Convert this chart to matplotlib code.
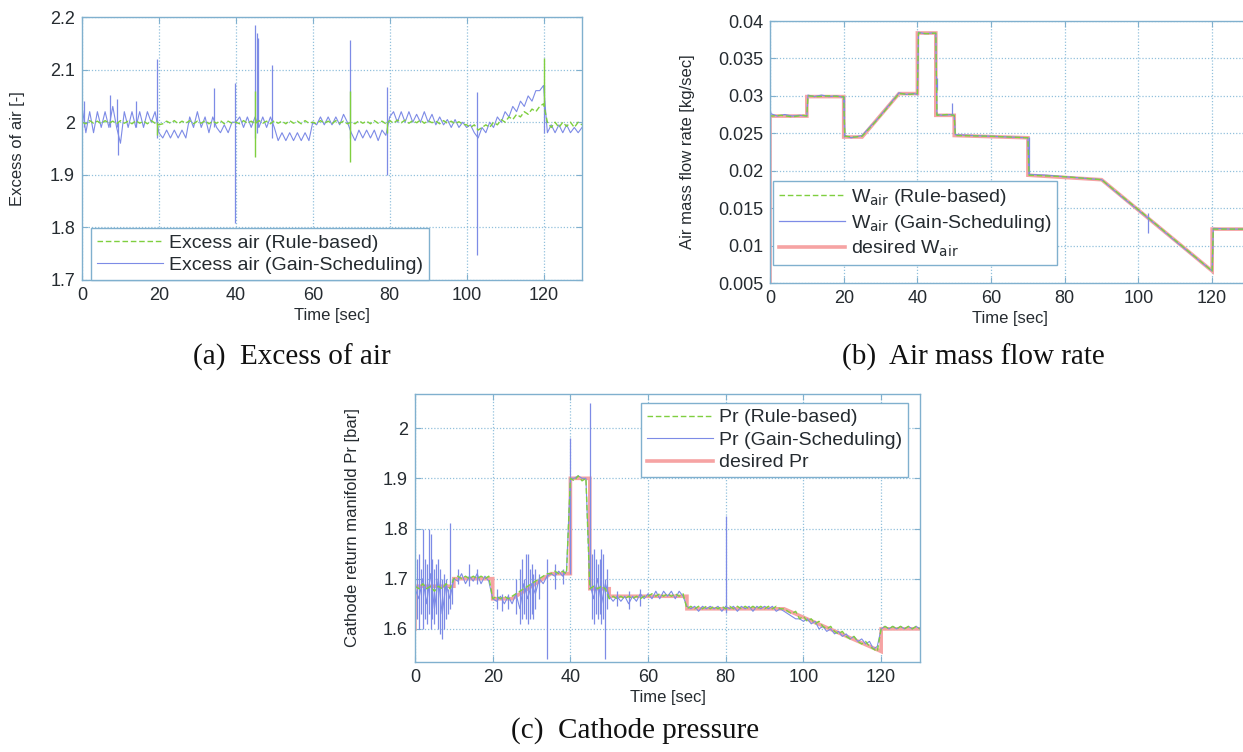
import matplotlib.pyplot as plt
import numpy as np

# ---------------- data ----------------
t_sec = list(range(0, 131))   # 1 s sampling grid used by the noisy traces

# (a) excess of air
a_gain = [2.03, 1.98, 2.02, 1.98, 2.02, 1.99, 2.02, 1.99, 2.03, 1.99,
          1.96, 2.02, 1.99, 2.02, 1.99, 2.02, 1.99, 2.02, 2.00, 2.02,
          1.98, 1.97, 1.985, 1.97, 1.985, 1.97, 1.985, 1.97, 2.01, 1.99,
          2.02, 1.99, 2.01, 1.98, 2.01, 1.99, 1.98, 1.995, 1.98, 2.00,
          2.00, 2.01, 1.99, 2.01, 1.99, 2.01, 1.99, 2.01, 1.99, 2.01,
          1.99, 1.965, 1.98, 1.965, 1.98, 1.965, 1.98, 1.965, 1.98, 1.965,
          2.00, 1.995, 2.01, 1.995, 2.01, 1.995, 2.01, 1.995, 2.015, 2.00,
          1.98, 1.965, 1.985, 1.97, 1.985, 1.97, 1.985, 1.965, 1.985, 1.975,
          2.01, 2.02, 2.00, 2.02, 2.00, 2.02, 2.00, 2.015, 2.00, 2.02,
          2.00, 2.015, 1.995, 2.01, 1.995, 2.005, 1.99, 2.005, 1.99, 2.00,
          1.99, 1.995, 1.98, 1.97, 1.99, 1.98, 2.00, 1.99, 2.01, 2.00,
          2.02, 2.01, 2.03, 2.02, 2.04, 2.03, 2.05, 2.04, 2.06, 2.06,
          2.07, 1.98, 1.995, 1.98, 1.995, 1.98, 1.995, 1.98, 1.99, 1.98, 1.99]
a_rule = [2.00, 1.997, 2.003, 1.998, 2.002, 1.997, 2.003, 1.998, 2.002, 1.997,
          2.003, 1.998, 2.002, 1.997, 2.003, 1.998, 2.002, 1.997, 2.003, 1.998,
          1.995, 1.997, 2.002, 1.998, 2.003, 1.997, 2.002, 1.998, 2.003, 1.997,
          2.002, 1.998, 2.003, 1.997, 2.002, 1.998, 2.003, 1.997, 2.002, 1.998,
          2.00, 1.997, 2.003, 1.998, 2.002, 1.997, 2.003, 1.998, 2.002, 1.997,
          2.003, 1.998, 2.002, 1.997, 2.003, 1.998, 2.002, 1.997, 2.003, 1.998,
          2.00, 1.997, 2.003, 1.998, 2.002, 1.997, 2.003, 1.998, 2.002, 1.997,
          2.00, 1.997, 2.003, 1.998, 2.002, 1.997, 2.003, 1.998, 2.002, 1.997,
          2.003, 1.998, 2.004, 1.999, 2.004, 1.998, 2.003, 1.999, 2.004, 1.998,
          2.003, 1.999, 2.002, 1.997, 2.003, 1.998, 2.002, 1.997, 2.001, 1.996,
          1.995, 1.99, 1.995, 1.985, 1.99, 1.995, 1.99, 2.00, 1.995, 2.005,
          2.00, 2.01, 2.005, 2.015, 2.01, 2.02, 2.015, 2.025, 2.02, 2.03,
          2.035, 2.00, 1.99, 2.00, 1.99, 2.00, 1.992, 2.00, 1.99, 2.00, 1.995]
a_gain_spk_t = [0.5, 7.3, 9.0, 9.4, 14.0, 19.6, 34.4, 39.8, 45.0, 45.4, 45.8, 49.5, 69.6, 79.4, 102.8, 120.0]
a_gain_spk_lo = [1.99, 1.99, 1.99, 1.938, 1.99, 1.97, 1.99, 1.808, 1.97, 1.98, 1.99, 1.97, 1.97, 1.90, 1.748, 1.98]
a_gain_spk_hi = [2.04, 2.052, 2.045, 2.00, 2.04, 2.12, 2.065, 2.075, 2.185, 2.17, 2.16, 2.109, 2.156, 2.067, 2.057, 2.07]
a_rule_spk_t = [19.6, 45.0, 69.6, 79.4, 120.0]
a_rule_spk_lo = [1.975, 1.934, 1.925, 1.98, 2.03]
a_rule_spk_hi = [2.00, 2.06, 2.06, 2.00, 2.122]
a_yticks = [1.7, 1.8, 1.9, 2.0, 2.1, 2.2]
a_yticklabels = ['1.7', '1.8', '1.9', '2', '2.1', '2.2']

# (b) air mass flow rate
b_des_t = [0, 0, 10, 10, 20, 20, 25, 35, 40, 40, 45, 45, 50, 50, 70, 70, 90, 120, 120, 130]
b_des_w = [0.0, 0.0273, 0.0273, 0.0299, 0.0299, 0.0245, 0.0245, 0.0303, 0.0303, 0.0384, 0.0384,
           0.0274, 0.0274, 0.0247, 0.0244, 0.0194, 0.0188, 0.0066, 0.0122, 0.0122]
b_gain_t = [0, 0.3, 2, 4, 6, 8, 10, 10.3, 12, 14, 16, 18, 20, 20.3, 22, 24, 25, 27, 29, 31, 33, 35,
            37, 39, 40, 40.3, 42, 44, 45, 45.3, 47, 49, 50, 50.3, 55, 60, 65, 70, 70.3, 75, 80, 85,
            90, 95, 100, 105, 110, 115, 120, 120.3, 125, 130]
b_gain_w = [0.0282, 0.0276, 0.0273, 0.0275, 0.0273, 0.0274, 0.0273, 0.0301, 0.0299, 0.0301, 0.0299,
            0.0300, 0.0298, 0.0247, 0.0244, 0.0246, 0.0247, 0.0258, 0.0268, 0.0280, 0.0292, 0.0304,
            0.0302, 0.0303, 0.0302, 0.0385, 0.0383, 0.0384, 0.0383, 0.0275, 0.0274, 0.0275, 0.0274,
            0.0248, 0.0247, 0.0246, 0.0245, 0.0244, 0.0195, 0.0194, 0.0192, 0.0190, 0.0188, 0.0167,
            0.0147, 0.0127, 0.0106, 0.0086, 0.0066, 0.0123, 0.0122, 0.0122]
b_rule_t = [0, 0.3, 3, 6, 9, 10, 10.3, 13, 16, 19, 20, 20.3, 23, 25, 28, 31, 34, 35, 38, 40, 40.3,
            43, 45, 45.3, 48, 50, 50.3, 60, 70, 70.3, 80, 90, 100, 110, 120, 120.3, 130]
b_rule_w = [0.0275, 0.0273, 0.0274, 0.0272, 0.0274, 0.0273, 0.0300, 0.0299, 0.0300, 0.0299, 0.0299,
            0.0246, 0.0245, 0.0246, 0.0262, 0.0279, 0.0297, 0.0303, 0.0302, 0.0303, 0.0384, 0.0383,
            0.0384, 0.0274, 0.0275, 0.0274, 0.0247, 0.0246, 0.0244, 0.0194, 0.0192, 0.0188, 0.0148,
            0.0107, 0.0066, 0.0122, 0.0122]
b_gain_spk_t = [20.2, 45.3, 49.5, 70.2, 102.6]
b_gain_spk_lo = [0.0245, 0.0308, 0.0275, 0.0195, 0.0117]
b_gain_spk_hi = [0.0300, 0.0324, 0.0290, 0.0245, 0.0143]
b_yticks = [0.005, 0.01, 0.015, 0.02, 0.025, 0.03, 0.035, 0.04]
b_yticklabels = ['0.005', '0.01', '0.015', '0.02', '0.025', '0.03', '0.035', '0.04']

# (c) cathode pressure
c_des_t = [0, 0, 10, 10, 20, 20, 25, 35, 40, 40, 45, 45, 50, 50, 70, 70, 95, 120, 120, 130]
c_des_p = [1.60, 1.685, 1.685, 1.70, 1.70, 1.66, 1.66, 1.71, 1.71, 1.90, 1.90, 1.68, 1.68, 1.665,
           1.665, 1.64, 1.64, 1.555, 1.60, 1.60]
c_gain = [1.68, 1.66, 1.70, 1.65, 1.71, 1.64, 1.70, 1.63, 1.69, 1.66,
          1.70, 1.695, 1.71, 1.69, 1.705, 1.695, 1.71, 1.69, 1.705, 1.695,
          1.66, 1.655, 1.665, 1.65, 1.665, 1.65, 1.67, 1.64, 1.69, 1.66,
          1.69, 1.67, 1.70, 1.69, 1.705, 1.71, 1.705, 1.715, 1.705, 1.715,
          1.90, 1.90, 1.905, 1.90, 1.90, 1.69, 1.66, 1.70, 1.65, 1.69,
          1.665, 1.655, 1.665, 1.655, 1.665, 1.65, 1.665, 1.655, 1.67, 1.66,
          1.67, 1.66, 1.675, 1.66, 1.675, 1.665, 1.675, 1.66, 1.675, 1.665,
          1.645, 1.64, 1.645, 1.635, 1.645, 1.64, 1.645, 1.64, 1.645, 1.635,
          1.645, 1.64, 1.645, 1.635, 1.645, 1.64, 1.645, 1.635, 1.645, 1.64,
          1.645, 1.64, 1.645, 1.635, 1.64, 1.635, 1.63, 1.625, 1.62, 1.62,
          1.615, 1.62, 1.61, 1.615, 1.60, 1.605, 1.595, 1.60, 1.59, 1.595,
          1.585, 1.59, 1.58, 1.585, 1.575, 1.58, 1.57, 1.575, 1.56, 1.565,
          1.60, 1.605, 1.60, 1.605, 1.60, 1.605, 1.60, 1.605, 1.60, 1.605, 1.60]
c_rule = [1.685, 1.68, 1.69, 1.68, 1.685, 1.675, 1.685, 1.68, 1.69, 1.68,
          1.70, 1.705, 1.70, 1.705, 1.70, 1.705, 1.70, 1.705, 1.70, 1.705,
          1.66, 1.665, 1.66, 1.665, 1.66, 1.665, 1.67, 1.675, 1.68, 1.685,
          1.69, 1.695, 1.70, 1.705, 1.71, 1.71, 1.715, 1.71, 1.715, 1.71,
          1.90, 1.895, 1.905, 1.895, 1.90, 1.68, 1.685, 1.68, 1.685, 1.68,
          1.66, 1.665, 1.66, 1.665, 1.66, 1.665, 1.66, 1.665, 1.66, 1.665,
          1.665, 1.67, 1.665, 1.67, 1.665, 1.67, 1.665, 1.67, 1.665, 1.67,
          1.64, 1.645, 1.64, 1.645, 1.64, 1.645, 1.64, 1.645, 1.64, 1.645,
          1.64, 1.645, 1.64, 1.645, 1.64, 1.645, 1.64, 1.645, 1.64, 1.645,
          1.64, 1.645, 1.64, 1.645, 1.64, 1.64, 1.635, 1.63, 1.635, 1.62,
          1.625, 1.615, 1.62, 1.61, 1.615, 1.605, 1.60, 1.605, 1.595, 1.59,
          1.595, 1.585, 1.58, 1.585, 1.575, 1.57, 1.575, 1.565, 1.56, 1.555,
          1.60, 1.605, 1.60, 1.605, 1.60, 1.605, 1.60, 1.605, 1.60, 1.605, 1.60]
c_gain_spk_t = [0.5, 1.0, 1.5, 2.0, 2.5, 3.0, 3.5, 4.0, 4.5, 5.0, 5.5, 6.0, 6.5, 7.0, 7.5, 8.0, 8.5, 9.0, 9.5,
                11, 14, 16, 21, 22.5, 24,
                26, 27, 27.5, 28, 28.5, 29, 29.5, 30, 30.5, 31, 32, 34, 36, 38, 40, 45,
                45.5, 46, 46.5, 47, 47.5, 48, 48.5, 49, 49.5, 52, 55, 58, 80]
c_gain_spk_lo = [1.62, 1.60, 1.63, 1.60, 1.62, 1.61, 1.63, 1.60, 1.62, 1.61, 1.63, 1.60, 1.59, 1.58, 1.60,
                 1.62, 1.63, 1.64, 1.65,
                 1.69, 1.685, 1.69, 1.64, 1.635, 1.64,
                 1.63, 1.61, 1.62, 1.63, 1.62, 1.61, 1.62, 1.63, 1.62, 1.64, 1.66, 1.54, 1.68, 1.69, 1.71, 1.68,
                 1.62, 1.61, 1.63, 1.62, 1.63, 1.61, 1.62, 1.54, 1.64, 1.645, 1.64, 1.645, 1.632]
c_gain_spk_hi = [1.74, 1.75, 1.72, 1.80, 1.74, 1.73, 1.80, 1.79, 1.74, 1.72, 1.73, 1.74, 1.72, 1.70, 1.71,
                 1.70, 1.68, 1.81, 1.70,
                 1.72, 1.73, 1.72, 1.68, 1.67, 1.67,
                 1.70, 1.72, 1.74, 1.70, 1.75, 1.75, 1.72, 1.73, 1.71, 1.72, 1.71, 1.74, 1.73, 1.72, 1.98, 2.05,
                 1.75, 1.76, 1.74, 1.73, 1.74, 1.76, 1.75, 1.70, 1.72, 1.675, 1.675, 1.68, 1.824]
c_yticks = [1.6, 1.7, 1.8, 1.9, 2.0]
c_yticklabels = ['1.6', '1.7', '1.8', '1.9', '2']

x_ticks = [0, 20, 40, 60, 80, 100, 120]

# ---------------- style ----------------
GREEN = '#7fcf3f'
BLUE = '#7d8be6'
RED = '#f6a3a3'
EDGE = '#80b0ce'
GRID = '#92c0dc'
TXT = '#252b30'

plt.rcParams['font.family'] = ['Liberation Sans', 'DejaVu Sans']

W, H = 1243, 752
fig = plt.figure(figsize=(W / 100, H / 100), dpi=100)


def px_axes(x0, y0, x1, y1):
    return fig.add_axes([x0 / W, 1 - y1 / H, (x1 - x0) / W, (y1 - y0) / H])


def style(ax, ylabel, ylab_x, yticks, yticklabels):
    ax.set_xticks(x_ticks)
    ax.set_xticklabels([str(v) for v in x_ticks])
    ax.set_yticks(yticks)
    ax.set_yticklabels(yticklabels)
    ax.grid(True, color=GRID, linestyle=(0, (1, 1.5)), linewidth=0.9)
    ax.set_axisbelow(True)
    for s in ax.spines.values():
        s.set_color(EDGE)
        s.set_linewidth(1.0)
    ax.tick_params(direction='in', length=4, color=EDGE, labelsize=13,
                   labelcolor=TXT, pad=5, top=True, right=True)
    ax.set_xlabel('Time [sec]', fontsize=12, color=TXT)
    ax.set_ylabel(ylabel, fontsize=12, color=TXT)
    ax.xaxis.set_label_coords(0.5, -0.105, transform=ax.transAxes)
    ax.yaxis.set_label_coords(ylab_x, 0.5, transform=ax.transAxes)
    ax.xaxis.label.set_va('top')


leg_kw = dict(fontsize=14, handlelength=3.4, handletextpad=0.3, borderpad=0.3,
              labelspacing=0.25, fancybox=False, framealpha=1, edgecolor=EDGE,
              bbox_transform=fig.transFigure, borderaxespad=0)

# ---- (a) ----
ax = px_axes(82, 17, 582, 280)
lb, = ax.plot(t_sec, a_gain, color=BLUE, lw=0.8)
ax.vlines(a_gain_spk_t, a_gain_spk_lo, a_gain_spk_hi, colors=BLUE, lw=0.9)
lg, = ax.plot(t_sec, a_rule, color=GREEN, lw=1.0, ls=(0, (4, 2)))
ax.vlines(a_rule_spk_t, a_rule_spk_lo, a_rule_spk_hi, colors=GREEN, lw=1.0)
ax.set_xlim(0, 130)
ax.set_ylim(1.7, 2.2)
style(ax, 'Excess of air [-]', -0.114, a_yticks, a_yticklabels)
leg = ax.legend([lg, lb], ['Excess air (Rule-based)', 'Excess air (Gain-Scheduling)'],
                loc='lower left', bbox_to_anchor=(91 / W, 1 - 280 / H), **leg_kw)
leg.get_frame().set_linewidth(1.0)
for t in leg.get_texts():
    t.set_color(TXT)

# ---- (b) ----
ax = px_axes(770, 21, 1249, 283)
lr, = ax.plot(b_des_t, b_des_w, color=RED, lw=2.6, solid_joinstyle='miter')
lb, = ax.plot(b_gain_t, b_gain_w, color=BLUE, lw=0.9)
ax.vlines(b_gain_spk_t, b_gain_spk_lo, b_gain_spk_hi, colors=BLUE, lw=0.9)
lg, = ax.plot(b_rule_t, b_rule_w, color=GREEN, lw=1.0, ls=(0, (4, 2)))
ax.set_xlim(0, 130)
ax.set_ylim(0.005, 0.04)
style(ax, 'Air mass flow rate [kg/sec]', -0.157, b_yticks, b_yticklabels)
leg = ax.legend([lg, lb, lr],
                [r'W$_{\rm air}$ (Rule-based)', r'W$_{\rm air}$ (Gain-Scheduling)', r'desired W$_{\rm air}$'],
                loc='upper left', bbox_to_anchor=(773 / W, 1 - 181 / H), **leg_kw)
leg.get_frame().set_linewidth(1.0)
for t in leg.get_texts():
    t.set_color(TXT)

# ---- (c) ----
ax = px_axes(415, 394, 920, 662)
lr, = ax.plot(c_des_t, c_des_p, color=RED, lw=2.6, solid_joinstyle='miter')
lb, = ax.plot(t_sec, c_gain, color=BLUE, lw=0.8)
ax.vlines(c_gain_spk_t, c_gain_spk_lo, c_gain_spk_hi, colors=BLUE, lw=0.9)
lg, = ax.plot(t_sec, c_rule, color=GREEN, lw=1.0, ls=(0, (4, 2)))
ax.set_xlim(0, 130)
ax.set_ylim(1.534, 2.068)
style(ax, 'Cathode return manifold Pr [bar]', -0.109, c_yticks, c_yticklabels)
leg = ax.legend([lg, lb, lr], ['Pr (Rule-based)', 'Pr (Gain-Scheduling)', 'desired Pr'],
                loc='upper right', bbox_to_anchor=(908 / W, 1 - 403 / H), **leg_kw)
leg.get_frame().set_linewidth(1.0)
for t in leg.get_texts():
    t.set_color(TXT)

# ---- sub-captions ----
cap_kw = dict(fontsize=21, family=['Liberation Serif', 'DejaVu Serif'], color='#111111',
              ha='center', va='center')
fig.text(292 / W, 1 - 357 / H, '(a)  Excess of air', **cap_kw)
fig.text(973 / W, 1 - 357 / H, '(b)  Air mass flow rate', **cap_kw)
fig.text(635 / W, 1 - 731 / H, '(c)  Cathode pressure', **cap_kw)

fig.savefig('out.png', dpi=100)
